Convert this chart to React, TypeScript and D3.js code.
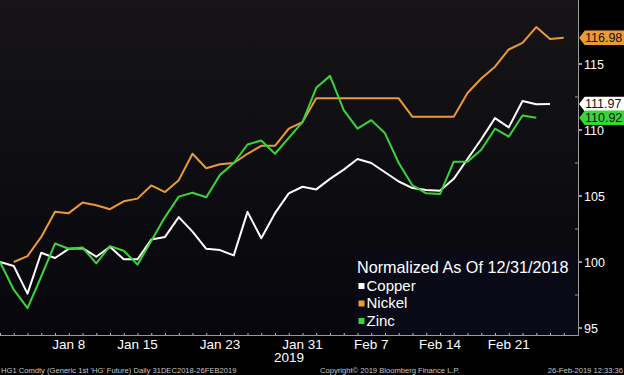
import React from "react";
import * as d3 from "d3";

const dates = [
  "Dec 31", "Jan 2", "Jan 3", "Jan 4", "Jan 7", "Jan 8", "Jan 9", "Jan 10", "Jan 11",
  "Jan 14", "Jan 15", "Jan 16", "Jan 17", "Jan 18", "Jan 21", "Jan 22", "Jan 23", "Jan 24",
  "Jan 25", "Jan 28", "Jan 29", "Jan 30", "Jan 31", "Feb 1", "Feb 4", "Feb 5", "Feb 6",
  "Feb 7", "Feb 8", "Feb 11", "Feb 12", "Feb 13", "Feb 14", "Feb 15", "Feb 18", "Feb 19",
  "Feb 20", "Feb 21", "Feb 22", "Feb 25", "Feb 26", "Feb 27",
];

const copper: (number | null)[] = [
  100.0, 99.7, 97.6, 100.7, 100.3, 101.0, 101.05, 100.4, 101.15, 100.2, 100.2, 101.7,
  101.9, 103.4, 102.3, 101.0, 100.9, 100.5, 103.8, 101.8, 103.7, 105.2, 105.7, 105.5,
  106.3, 107.0, 107.8, 107.5, 106.8, 106.1, 105.6, 105.45, 105.4, 106.3, 107.8, 109.3,
  110.9, 110.2, 112.2, 111.95, 111.97,
];

const nickel: (number | null)[] = [
  null, 100.0, 100.45, 101.9, 103.8, 103.7, 104.5, 104.3, 104.0, 104.6, 104.8, 105.8,
  105.3, 106.2, 108.2, 107.1, 107.4, 107.5, 108.2, 108.8, 108.8, 110.1, 110.6, 112.4,
  112.4, 112.4, 112.4, 112.4, 112.4, 112.4, 111.0, 111.0, 111.0, 111.0, 112.8, 113.9,
  114.8, 116.1, 116.6, 117.8, 116.9, 116.98,
];

const zinc: (number | null)[] = [
  100.0, 97.9, 96.5, 98.9, 101.4, 101.0, 101.1, 99.9, 101.2, 100.85, 99.8, 101.6, 103.4,
  104.95, 105.25, 104.9, 106.6, 107.5, 108.9, 109.2, 108.2, 109.4, 110.6, 113.2, 114.1,
  111.5, 110.1, 110.75, 109.75, 107.5, 105.8, 105.2, 105.15, 107.6, 107.6, 108.5, 110.1,
  109.5, 111.1, 110.92,
];

const seriesNames = ["Copper", "Nickel", "Zinc"];
const seriesColors = ["#ffffff", "#ec9a35", "#3ad43a"];
const seriesData = [copper, nickel, zinc];

const xTickLabels = ["Jan 8", "Jan 15", "Jan 23", "Jan 31", "Feb 7", "Feb 14", "Feb 21"];
const yTicks = [95, 100, 105, 110, 115];
const yMinorTicks = [97.5, 102.5, 107.5, 112.5];

const W = 624;
const H = 375;
const PLOT_R = 578;
const PLOT_B = 335;

export default function App() {
  const x = d3.scaleLinear().domain([0, 42]).range([0, 577.5]);
  const y = d3.scaleLinear().domain([95, 115]).range([328, 64]);

  const line = d3
    .line<number | null>()
    .defined((d) => d !== null)
    .x((_, i) => x(i))
    .y((d) => y(d as number));

  const font = "'Liberation Sans', Arial, sans-serif";

  const lastVals = seriesData.map((s) => {
    const vals = s.filter((v) => v !== null) as number[];
    return vals[vals.length - 1];
  });

  return (
    <svg
      width={W}
      height={H}
      style={{ position: "absolute", left: 0, top: 0, display: "block" }}
      fontFamily={font}
    >
      <defs>
        <linearGradient id="bg" x1="0" y1="0" x2="0" y2="1">
          <stop offset="0%" stopColor="#161416" />
          <stop offset="100%" stopColor="#06060c" />
        </linearGradient>
        <clipPath id="plotclip">
          <rect x={0} y={0} width={PLOT_R} height={PLOT_B} />
        </clipPath>
      </defs>
      <rect x={0} y={0} width={W} height={H} fill="#000" />
      <rect x={0} y={0} width={PLOT_R} height={PLOT_B} fill="url(#bg)" />
      <rect x={355} y={250} width={PLOT_R - 355} height={PLOT_B - 250} fill="#0a0a16" />

      {/* lines */}
      <g clipPath="url(#plotclip)">
        {seriesData.map((s, i) => (
          <path
            key={seriesNames[i]}
            d={line(s) || ""}
            fill="none"
            stroke={seriesColors[i]}
            strokeWidth={2}
            strokeLinejoin="round"
          />
        ))}
      </g>

      {/* x axis */}
      <line x1={0} x2={PLOT_R} y1={PLOT_B + 0.5} y2={PLOT_B + 0.5} stroke="#9a9a9a" strokeWidth={1} />
      {dates.map((d, i) => (
        <line
          key={"xt" + d}
          x1={x(i) + 0.5}
          x2={x(i) + 0.5}
          y1={PLOT_B - 2}
          y2={PLOT_B}
          stroke="#bbb"
          strokeWidth={1}
        />
      ))}
      {xTickLabels.map((t) => (
        <text
          key={t}
          x={x(dates.indexOf(t))}
          y={349}
          fill="#ffffff"
          fontSize={13.5}
          textAnchor="middle"
        >
          {t}
        </text>
      ))}
      <text x={289} y={362} fill="#ffffff" fontSize={13.5} textAnchor="middle">
        2019
      </text>

      {/* y axis */}
      <line x1={PLOT_R + 0.5} x2={PLOT_R + 0.5} y1={0} y2={PLOT_B + 1} stroke="#9a9a9a" strokeWidth={1} />
      {yTicks.map((t) => (
        <g key={"yt" + t}>
          <line x1={PLOT_R + 1} x2={PLOT_R + 4} y1={y(t)} y2={y(t)} stroke="#fff" strokeWidth={1.2} />
          <text x={584} y={y(t) + 5} fill="#ffffff" fontSize={12.5}>
            {t}
          </text>
        </g>
      ))}
      {yMinorTicks.map((t) => (
        <line key={"ym" + t} x1={PLOT_R - 3} x2={PLOT_R} y1={y(t)} y2={y(t)} stroke="#9a9a9a" strokeWidth={1} />
      ))}

      {/* last value labels */}
      {seriesData.map((s, i) => {
        const v = lastVals[i];
        const cy = y(v);
        const tx = 580;
        return (
          <g key={"lbl" + i}>
            <path
              d={`M${tx},${cy} L${tx + 5},${cy - 6.5} L${W + 2},${cy - 6.5} L${W + 2},${cy + 6.5} L${tx + 5},${cy + 6.5} Z`}
              fill={seriesColors[i]}
              stroke={seriesColors[i]}
              strokeLinejoin="round"
              strokeWidth={1.5}
            />
            <text x={585} y={cy + 4.5} fill="#111" fontSize={12.5}>
              {v.toFixed(2)}
            </text>
          </g>
        );
      })}

      {/* legend */}
      <text x={357} y={273} fill="#ffffff" fontSize={16.2}>
        Normalized As Of 12/31/2018
      </text>
      {seriesNames.map((n, i) => (
        <g key={"lg" + n}>
          <rect x={358.5} y={283 + i * 17.5} width={6} height={6} fill={seriesColors[i]} />
          <text x={366.5} y={290.5 + i * 17.5} fill="#ffffff" fontSize={15}>
            {n}
          </text>
        </g>
      ))}

      {/* footer */}
      <text x={1} y={373} fill="#c8c8c8" fontSize={7.6}>
        HG1 Comdty (Generic 1st 'HG' Future)  Daily 31DEC2018-26FEB2019
      </text>
      <text x={320} y={373} fill="#c8c8c8" fontSize={7.6}>
        Copyright© 2019 Bloomberg Finance L.P.
      </text>
      <text x={623} y={373} fill="#c8c8c8" fontSize={7.6} textAnchor="end">
        26-Feb-2019 12:33:36
      </text>
    </svg>
  );
}
